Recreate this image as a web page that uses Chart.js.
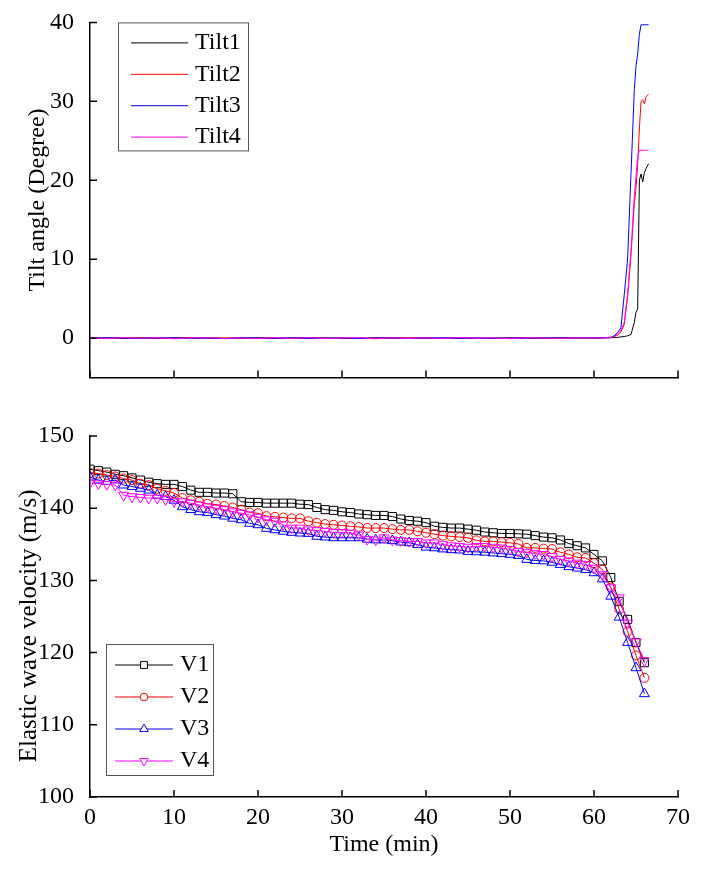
<!DOCTYPE html>
<html>
<head>
<meta charset="utf-8">
<title>Tilt angle and elastic wave velocity</title>
<script src="https://cdn.jsdelivr.net/npm/chart.js@4.4.1/dist/chart.umd.min.js"></script>
<style>
    html, body { margin: 0; padding: 0; background: #fff; }
    #wrap { position: relative; width: 702px; height: 870px; }
    #tiltCanvas { position: absolute; left: 0; top: 0; }
    #velCanvas { position: absolute; left: 0; top: 400px; }
</style>
</head>
<body>
<div id="wrap">
    <canvas id="tiltCanvas" width="702" height="400"></canvas>
    <canvas id="velCanvas" width="702" height="470"></canvas>
</div>
<script>
// Tilt sensors (top panel), time in minutes
var tiltTime = [0, 2, 4, 6, 8, 10, 12, 14, 16, 18, 20, 22, 24, 26, 28, 30, 32, 34, 36, 38, 40,
    42, 44, 46, 48, 50, 52, 54, 56, 58, 60, 61, 62, 62.4, 62.8, 63.2, 63.6, 64, 64.4, 64.8,
    65, 65.2, 65.4, 65.6, 65.8, 66, 66.2, 66.5];
var tilt1 = [0.00, 0.03, -0.02, 0.05, 0.02, -0.04, 0.03, 0.06, -0.03, 0.02, 0.04, -0.05, 0.01,
    0.05, -0.02, 0.00, -0.06, 0.03, 0.02, -0.03, 0.04, -0.02, 0.02, -0.05, 0.03, 0.01, 0.05,
    -0.03, 0.01, 0.03, 0.02,
    0.02, 0.05, 0.08, 0.10, 0.15, 0.20, 0.30, 0.45, 2.0, 3.3, 3.7, 20.0, 20.8, 19.8, 21.0, 21.5, 22.1];
var tilt2 = [0.02, -0.03, 0.04, 0.01, -0.05, 0.02, 0.06, -0.02, 0.03, -0.04, 0.01, 0.05, -0.03,
    0.02, 0.04, -0.06, 0.01, 0.03, -0.02, 0.05, 0.00, -0.04, 0.03, 0.02, -0.05, 0.04, 0.01,
    -0.02, 0.03, 0.00, 0.04,
    0.03, 0.08, 0.2, 0.4, 0.8, 1.7, 5.2, 10.5, 17.0, 19.0, 22.0, 26.5, 30.0, 30.2, 29.7, 30.6, 30.9];
var tilt3 = [-0.02, 0.04, 0.01, -0.05, 0.03, 0.05, -0.03, 0.02, -0.06, 0.04, 0.02, -0.02, 0.05,
    -0.04, 0.01, 0.03, -0.05, 0.02, 0.04, -0.03, 0.01, 0.05, -0.02, 0.03, -0.04, 0.02, -0.01,
    0.04, 0.02, 0.05, 0.03,
    0.05, 0.10, 0.3, 0.7, 1.3, 5.5, 10.0, 20.7, 31.5, 34.5, 36.0, 38.5, 39.7, 39.7, 39.7, 39.7, 39.7];
var tilt4 = [0.05, -0.06, 0.08, -0.04, 0.06, -0.08, 0.03, 0.07, -0.05, 0.04, -0.07, 0.06, -0.03,
    0.08, -0.06, 0.02, 0.07, -0.08, 0.05, -0.04, 0.06, -0.05, 0.08, -0.03, 0.04, -0.07, 0.05,
    0.02, -0.04, 0.06, 0.03,
    0.03, 0.06, 0.2, 0.5, 1.0, 2.0, 5.5, 11.0, 18.0, 20.5, 23.0, 23.8, 23.8, 23.8, 23.8, 23.8, 23.8];

// Elastic wave velocity (bottom panel), one reading per minute
var velTime = [0, 1, 2, 3, 4, 5, 6, 7, 8, 9, 10, 11, 12, 13, 14, 15, 16, 17, 18, 19, 20, 21, 22,
    23, 24, 25, 26, 27, 28, 29, 30, 31, 32, 33, 34, 35, 36, 37, 38, 39, 40, 41, 42, 43, 44, 45,
    46, 47, 48, 49, 50, 51, 52, 53, 54, 55, 56, 57, 58, 59, 60, 61, 62, 63, 64, 65, 66];
var v1 = [145.4, 145.2, 145.0, 144.7, 144.5, 144.2, 143.9, 143.6, 143.4, 143.3, 143.3, 143.0,
    142.5, 142.2, 142.2, 142.1, 142.1, 142.0, 140.9, 140.8, 140.8, 140.7, 140.7, 140.7, 140.7,
    140.55, 140.5, 140.1, 139.8, 139.7, 139.5, 139.4, 139.2, 139.1, 139.0, 139.0, 138.85, 138.5,
    138.3, 138.2, 138.0, 137.5, 137.35, 137.25, 137.25, 137.1, 136.95, 136.7, 136.6, 136.5,
    136.5, 136.45, 136.4, 136.2, 136.0, 135.9, 135.6, 135.1, 134.8, 134.5, 133.6, 132.7, 130.4,
    127.1, 124.6, 121.4, 118.6];
var v2 = [144.9, 144.8, 144.6, 144.4, 144.1, 143.9, 143.4, 143.2, 142.7, 142.4, 142.1, 141.4,
    141.1, 140.9, 140.6, 140.5, 140.3, 140.1, 139.8, 139.4, 139.3, 138.9, 138.8, 138.7, 138.6,
    138.6, 138.2, 138.0, 137.8, 137.7, 137.6, 137.5, 137.4, 137.25, 137.25, 137.25, 137.1, 137.0,
    137.0, 136.8, 136.6, 136.4, 136.2, 136.1, 136.0, 135.9, 135.55, 135.4, 135.4, 135.3, 135.2,
    135.05, 134.5, 134.5, 134.4, 134.35, 133.9, 133.6, 133.2, 133.1, 132.4, 131.5, 129.0, 126.0,
    122.9, 119.6, 116.5];
var v3 = [144.3, 143.9, 143.7, 143.9, 143.2, 143.0, 142.75, 142.5, 141.8, 141.6, 141.1, 140.2,
    139.8, 139.5, 139.4, 139.1, 138.9, 138.6, 138.4, 137.9, 137.7, 137.2, 137.0, 136.8, 136.65,
    136.55, 136.5, 136.1, 136.0, 135.9, 135.9, 135.9, 135.9, 135.7, 135.6, 135.6, 135.5, 135.3,
    135.2, 134.95, 134.6, 134.5, 134.35, 134.25, 134.2, 134.0, 133.95, 133.9, 133.8, 133.7,
    133.6, 133.45, 132.9, 132.75, 132.7, 132.5, 132.2, 131.9, 131.7, 131.5, 131.05, 130.2, 127.8,
    124.9, 121.4, 117.9, 114.3];
var v4 = [143.5, 143.4, 143.3, 143.2, 141.8, 141.6, 141.5, 141.4, 141.4, 141.2, 140.9, 140.9,
    140.7, 140.45, 140.2, 140.0, 139.8, 139.5, 139.3, 139.1, 138.75, 138.4, 138.2, 137.7, 137.25,
    137.25, 137.0, 136.9, 136.8, 136.65, 136.65, 136.55, 136.3, 135.7, 135.6, 135.9, 135.6,
    135.5, 135.4, 135.4, 135.2, 135.2, 134.95, 134.8, 134.7, 134.6, 134.7, 134.7, 134.6, 134.5,
    134.3, 134.0, 133.9, 133.7, 133.6, 133.3, 132.9, 132.7, 132.4, 132.2, 131.7, 130.8, 129.0,
    127.6, 124.1, 121.5, 118.9];

// Tick labels
var timeTicks = [0, 10, 20, 30, 40, 50, 60, 70];
var tiltTicks = [0, 10, 20, 30, 40];
var velTicks = [100, 110, 120, 130, 140, 150];

var FONT = "'Liberation Serif', 'Times New Roman', serif";
Chart.defaults.font.family = FONT;
Chart.defaults.color = '#000';

function toPoints(xs, ys) {
    return ys.map(function(y, i) { return { x: xs[i], y: y }; });
}
function fixWidth(w) {
    return function(scale) { scale.width = w; };
}
function fixHeight(h) {
    return function(scale) { scale.height = h; };
}
function useTicks(values) {
    return function(scale) {
        scale.ticks = values.map(function(v) { return { value: v }; });
    };
}

// short tick marks pointing into the plot
var innerTicks = {
    id: 'innerTicks',
    afterDraw: function(chart) {
        var ctx = chart.ctx, area = chart.chartArea;
        var xs = chart.scales.x, ys = chart.scales.y;
        ctx.save();
        ctx.strokeStyle = '#000';
        ctx.lineWidth = 1.5;
        ctx.beginPath();
        xs.ticks.forEach(function(t) {
            var px = xs.getPixelForValue(t.value);
            ctx.moveTo(px, area.bottom);
            ctx.lineTo(px, area.bottom - 7);
        });
        ys.ticks.forEach(function(t) {
            var py = ys.getPixelForValue(t.value);
            ctx.moveTo(area.left, py);
            ctx.lineTo(area.left + 7, py);
        });
        ctx.stroke();
        ctx.restore();
    }
};

// boxed legend inside the plot area
var boxLegend = {
    id: 'boxLegend',
    afterDraw: function(chart, args, o) {
        var ctx = chart.ctx, a = chart.chartArea;
        var left = a.left + o.left, top = a.top + o.top;
        ctx.save();
        ctx.fillStyle = '#fff';
        ctx.fillRect(left, top, o.width, o.height);
        ctx.strokeStyle = '#555';
        ctx.lineWidth = 1;
        ctx.strokeRect(left + 0.5, top + 0.5, o.width, o.height);
        ctx.font = o.fontSize + 'px ' + FONT;
        ctx.textBaseline = 'middle';
        chart.data.datasets.forEach(function(ds, i) {
            var y = top + o.firstRow + i * o.rowGap;
            ctx.strokeStyle = ds.borderColor;
            ctx.lineWidth = 1;
            ctx.beginPath();
            ctx.moveTo(left + o.lineStart, y);
            ctx.lineTo(left + o.lineEnd, y);
            ctx.stroke();
            if (ds.pointRadius > 0 && Chart.helpers && Chart.helpers.drawPoint) {
                ctx.fillStyle = '#fff';
                Chart.helpers.drawPoint(ctx, {
                    pointStyle: ds.pointStyle,
                    rotation: ds.pointRotation || 0,
                    radius: ds.pointRadius * 0.85,
                    borderWidth: 1
                }, left + o.marker, y);
            }
            ctx.fillStyle = '#000';
            ctx.fillText(ds.label, left + o.textStart, y);
        });
        ctx.restore();
    }
};

function lineSet(label, color, xs, ys, order) {
    return {
        label: label,
        data: toPoints(xs, ys),
        borderColor: color,
        borderWidth: 1,
        pointRadius: 0,
        tension: 0,
        order: order
    };
}

function markerSet(label, color, ys, style, radius, rotation, order) {
    return {
        label: label,
        data: toPoints(velTime, ys),
        borderColor: color,
        borderWidth: 1,
        pointStyle: style,
        pointRadius: radius,
        pointRotation: rotation,
        pointBorderColor: color,
        pointBackgroundColor: 'rgba(0,0,0,0)',
        pointBorderWidth: 1,
        tension: 0,
        order: order
    };
}

var axisBorder = { display: true, color: '#000', width: 1.5 };

new Chart(document.getElementById('tiltCanvas'), {
    type: 'line',
    data: {
        datasets: [
            lineSet('Tilt1', '#000000', tiltTime, tilt1, 3),
            lineSet('Tilt2', '#ff0000', tiltTime, tilt2, 2),
            lineSet('Tilt3', '#0000ff', tiltTime, tilt3, 1),
            lineSet('Tilt4', '#ff00ff', tiltTime, tilt4, 0)
        ]
    },
    options: {
        responsive: false,
        animation: false,
        layout: { padding: { top: 22, right: 24, left: 0, bottom: 0 } },
        plugins: {
            legend: { display: false },
            tooltip: { enabled: false },
            boxLegend: {
                left: 28, top: 0, width: 130, height: 128, fontSize: 24,
                firstRow: 20.5, rowGap: 31.4, lineStart: 13, lineEnd: 70, marker: 41, textStart: 77
            }
        },
        scales: {
            x: {
                type: 'linear', min: 0, max: 70,
                grid: { display: false },
                border: axisBorder,
                ticks: { display: false },
                afterBuildTicks: useTicks(timeTicks),
                afterFit: fixHeight(18)
            },
            y: {
                type: 'linear', min: -5, max: 40,
                grid: { display: false },
                border: axisBorder,
                ticks: { padding: 8, font: { size: 24 } },
                title: {
                    display: true, text: 'Tilt angle (Degree)',
                    font: { size: 24 }, padding: { top: 23, bottom: 0 }
                },
                afterBuildTicks: useTicks(tiltTicks),
                afterFit: fixWidth(90)
            }
        }
    },
    plugins: [innerTicks, boxLegend]
});

new Chart(document.getElementById('velCanvas'), {
    type: 'line',
    data: {
        datasets: [
            markerSet('V1', '#000000', v1, 'rect', 5.7, 0, 3),
            markerSet('V2', '#ff0000', v2, 'circle', 4.5, 0, 2),
            markerSet('V3', '#0000ff', v3, 'triangle', 5.8, 0, 1),
            markerSet('V4', '#ff00ff', v4, 'triangle', 5.8, 180, 0)
        ]
    },
    options: {
        responsive: false,
        animation: false,
        layout: { padding: { top: 36, right: 24, left: 0, bottom: 0 } },
        plugins: {
            legend: { display: false },
            tooltip: { enabled: false },
            boxLegend: {
                left: 16, top: 208, width: 107, height: 131, fontSize: 24,
                firstRow: 21, rowGap: 32, lineStart: 9, lineEnd: 67, marker: 38, textStart: 74
            }
        },
        scales: {
            x: {
                type: 'linear', min: 0, max: 70,
                grid: { display: false },
                border: axisBorder,
                ticks: { padding: -2, maxRotation: 0, font: { size: 24 } },
                title: {
                    display: true, text: 'Time (min)',
                    font: { size: 24 }, padding: { top: 0, bottom: 11 }
                },
                afterBuildTicks: useTicks(timeTicks),
                afterFit: fixHeight(73)
            },
            y: {
                type: 'linear', min: 100, max: 150,
                grid: { display: false },
                border: axisBorder,
                ticks: { padding: 8, font: { size: 24 } },
                title: {
                    display: true, text: 'Elastic wave velocity (m/s)   ',
                    font: { size: 25 }, padding: { top: 14, bottom: 0 }
                },
                afterBuildTicks: useTicks(velTicks),
                afterFit: fixWidth(90)
            }
        }
    },
    plugins: [innerTicks, boxLegend]
});
</script>
</body>
</html>
